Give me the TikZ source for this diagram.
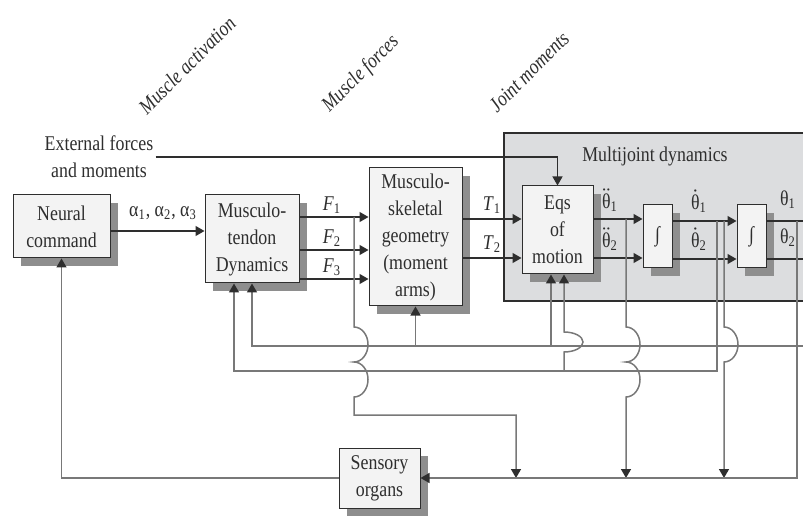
\documentclass[tikz,border=0pt]{standalone}
\usepackage{fontspec}
\usepackage{amsmath}
\setmainfont{Liberation Serif}[FakeStretch=0.85]
\usetikzlibrary{positioning,arrows.meta,shadows}

\definecolor{boxfill}{HTML}{F3F3F3}
\definecolor{regionfill}{HTML}{DCDDDF}
\definecolor{shade}{HTML}{8E8E8E}
\definecolor{ink}{HTML}{2E2E2E}
\definecolor{wire}{HTML}{787878}

\newcommand{\ddth}[1]{$\ddot{\text{θ}}$\textsubscript{#1}}
\newcommand{\dth}[1]{$\dot{\text{θ}}$\textsubscript{#1}}

\tikzset{
  blk/.style={draw=ink, fill=boxfill, line width=0.5pt, align=center, inner sep=1pt,
    drop shadow={shadow xshift=4pt, shadow yshift=-4pt, fill=shade, opacity=1}},
  sig/.style={draw=ink, line width=0.6pt, -{Triangle[length=4.5pt,width=5pt]}},
  fb/.style={draw=wire, line width=0.75pt},
  fbarrow/.style={fb, -{Triangle[length=4.5pt,width=5pt,color=ink]}},
  lbl/.style={inner sep=0pt},
  slant/.style={rotate=45, inner sep=0pt, font=\fontsize{10.5}{12}\selectfont\itshape}
}

\begin{document}
\begin{tikzpicture}[x=0.5pt, y=-0.5pt, font=\fontsize{10.5}{13.5}\selectfont, text=ink]
	\useasboundingbox (0,0) rectangle (803,518);

	% multijoint dynamics region
	\draw[draw=ink, fill=regionfill, line width=0.6pt] (504,133) rectangle (812,301);
	\node[lbl] (mjlab) at (655,156) {Multijoint dynamics};

	% blocks
	\node[blk, minimum width=48.5pt, minimum height=31.5pt] (neural) at (61.5,226.5) {Neural\\command};
	\node[blk, minimum width=47pt, minimum height=44pt] (tendon) at (252,239) {Musculo-\\tendon\\Dynamics};
	\node[blk, minimum width=46.5pt, minimum height=69pt] (skel) at (415.5,237) {Musculo-\\skeletal\\geometry\\(moment\\arms)};
	\node[blk, minimum width=35.5pt, minimum height=44pt] (eqs) at (557.5,230) {Eqs\\of\\motion};
	\node[blk, minimum width=14.5pt, minimum height=31.5pt] (int1) at (657.5,236.5) {∫};
	\node[blk, minimum width=14.5pt, minimum height=31.5pt] (int2) at (751.5,236.5) {∫};
	\node[blk, minimum width=40.5pt, minimum height=30pt] (sensory) at (379.5,478) {Sensory\\organs};

	% rotated headings
	\node[slant] (lact) at (187,65) {Muscle activation};
	\node[slant] (lfor) at (361,74) {Muscle forces};
	\node[slant] (ljnt) at (529,72) {Joint moments};

	% external input
	\node[inner sep=1pt, align=center] (ext) at (99,157) {External forces\\and moments};
	\draw[sig] (ext.east) -| (eqs.north);

	% forward path
	\draw[sig] (neural.east |- 0,231) -- (tendon.west |- 0,231);
	\node[lbl] (alab) at (163,213) {α\textsubscript{1}, α\textsubscript{2}, α\textsubscript{3}};
	\foreach \y/\k in {217/1, 250/2, 279/3} {
		\draw[sig] (tendon.east |- 0,\y) -- (skel.west |- 0,\y);
		\node[lbl] (F\k) at (332,\y-12) {\textit{F}\textsubscript{\k}};
	}
	\foreach \y/\k in {219/1, 258/2} {
		\draw[sig] (skel.east |- 0,\y) -- (eqs.west |- 0,\y);
		\node[lbl] (T\k) at (492,\y-14) {\textit{T}\textsubscript{\k}};
		\draw[sig] (eqs.east |- 0,\y) -- (int1.west |- 0,\y);
		\node[lbl] (acc\k) at (610,\y-19) {\ddth{\k}};
	}
	\foreach \y/\k in {221/1, 259/2} {
		\draw[sig] (int1.east |- 0,\y) -- (int2.west |- 0,\y);
		\node[lbl] (vel\k) at (699,\y-20) {\dth{\k}};
		\coordinate (out\k) at (812,\y);
		\draw[draw=ink, line width=0.6pt] (int2.east |- 0,\y) -- (out\k);
		\node[lbl] (pos\k) at (788,\y-21) {θ\textsubscript{\k}};
	}

	% taps and buses
	\coordinate (tapF) at (354,217);
	\coordinate (tapA) at (626,219);
	\coordinate (tapV) at (717,221);
	\coordinate (tapW) at (724,221);
	\coordinate (tapP) at (797,221);
	\coordinate (busA) at (812,346);
	\coordinate (busB) at (717,371);

	% feedback
	\draw[fbarrow] (busA) -| (tendon.south);
	\draw[fbarrow] (busA -| skel.south) -- (skel.south);
	\draw[fbarrow] (busA -| 551,0) -- (eqs.south -| 551,0);
	\draw[fbarrow] (tapV) -- (busB) -| (tendon.south -| 234,0);
	\draw[fbarrow] (busB -| 564,0) -- (564,352)
		arc[start angle=-90, end angle=90, x radius=9.5pt, y radius=5pt] -- (eqs.south -| 564,0);
	\draw[fbarrow] (tapF) -- (354,327)
		arc[start angle=90, end angle=-90, x radius=7pt, y radius=8.75pt]
		arc[start angle=90, end angle=-90, x radius=7pt, y radius=8.75pt]
		-- (354,415) -- (516,415) -- (sensory -| 516,0);
	\draw[fbarrow] (tapA) -- (626,327)
		arc[start angle=90, end angle=-90, x radius=7pt, y radius=8.75pt]
		arc[start angle=90, end angle=-90, x radius=7pt, y radius=8.75pt]
		-- (sensory -| 626,0);
	\draw[fbarrow] (tapW) -- (724,327)
		arc[start angle=90, end angle=-90, x radius=7pt, y radius=8.75pt]
		-- (sensory -| 724,0);
	\draw[fbarrow] (tapP) |- (sensory.east);
	\draw[fbarrow] (sensory.west) -| (neural.south);
\end{tikzpicture}
\end{document}
